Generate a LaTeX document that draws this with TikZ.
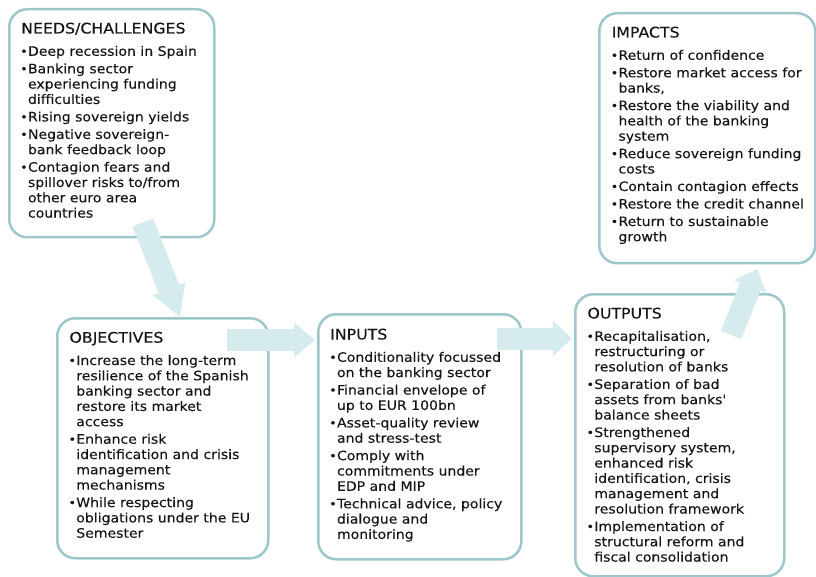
\documentclass[tikz,border=0pt]{standalone}
\usepackage{fontspec}
\setmainfont{DejaVu Sans}[FakeStretch=1.08,FakeBold=0.12]
\newfontfamily\plainapos{DejaVu Sans}[FakeStretch=1.08,FakeBold=0.12,Ligatures=TeXOff]
\usetikzlibrary{arrows.meta}
\definecolor{boxline}{HTML}{9CC7CB}
\definecolor{arrowfill}{HTML}{D5EBEE}
\definecolor{txt}{HTML}{151515}
\newlength\bulw
\setlength\bulw{6.8pt}
\newcommand\bul{\makebox[\bulw][l]{\kern-0.9pt\raisebox{0.3pt}{\fontsize{11.5}{11.5}\selectfont\textbullet}}}
\newcommand\bitem[1]{\par\vspace{2.2pt}\hangindent=\bulw\hangafter=1\noindent\bul#1}
\newcommand\panel[2]{\parbox[t]{260pt}{\raggedright\fontsize{13}{15.3}\selectfont\noindent{\fontsize{14.6}{15.3}\selectfont #1}\par\vspace{4.8pt}#2}}
\tikzset{
  panelbox/.style={draw=boxline, line width=2.5pt, rounded corners=18pt, anchor=north west, inner sep=0pt, fill=white},
  paneltext/.style={anchor=base west, inner sep=0pt, text=txt},
  bigarrow/.style={draw=arrowfill, line width=22pt, -{Triangle[width=35pt,length=#1,line width=0pt]}}
}
\begin{document}
\begin{tikzpicture}[x=1pt,y=-1pt]
\useasboundingbox (0,0) rectangle (816,577);
% boxes
\node[panelbox, minimum width=205pt, minimum height=228pt] (needs) at (8,8) {};
\node[panelbox, minimum width=216pt, minimum height=250pt] (impacts) at (598,12) {};
\node[panelbox, minimum width=211pt, minimum height=240pt] (objectives) at (56,317) {};
\node[panelbox, minimum width=203pt, minimum height=245pt] (inputs) at (317,313) {};
\node[panelbox, minimum width=209pt, minimum height=282pt] (outputs) at (574,293) {};
% texts
\node[paneltext] (needsT) at (21,33.5) {\panel{NEEDS/CHALLENGES}{%
\bitem{Deep recession in Spain}
\bitem{Banking sector\newline experiencing funding\newline difficulties}
\bitem{Rising sovereign yields}
\bitem{Negative sovereign-\newline bank feedback loop}
\bitem{Contagion fears and\newline spillover risks to/from\newline other euro area\newline countries}}};
\node[paneltext] (impactsT) at (611.5,37.5) {\panel{IMPACTS}{%
\bitem{Return of confidence}
\bitem{Restore market access for\newline banks,}
\bitem{Restore the viability and\newline health of the banking\newline system}
\bitem{Reduce sovereign funding\newline costs}
\bitem{Contain contagion effects}
\bitem{Restore the credit channel}
\bitem{Return to sustainable\newline growth}}};
\node[paneltext] (objectivesT) at (69.3,342.7) {\panel{OBJECTIVES}{%
\bitem{Increase the long-term\newline resilience of the Spanish\newline banking sector and\newline restore its market\newline access}
\bitem{Enhance risk\newline identification and crisis\newline management\newline mechanisms}
\bitem{While respecting\newline obligations under the EU\newline Semester}}};
\node[paneltext] (inputsT) at (330,339.5) {\panel{INPUTS}{%
\bitem{Conditionality focussed\newline on the banking sector}
\bitem{Financial envelope of\newline up to EUR 100bn}
\bitem{Asset-quality review\newline and stress-test}
\bitem{Comply with\newline commitments under\newline EDP and MIP}
\bitem{Technical advice, policy\newline dialogue and\newline monitoring}}};
\node[paneltext] (outputsT) at (587.3,318.5) {\panel{OUTPUTS}{%
\bitem{Recapitalisation,\newline restructuring or\newline resolution of banks}
\bitem{Separation of bad\newline assets from banks{\plainapos '}\newline balance sheets}
\bitem{Strengthened\newline supervisory system,\newline enhanced risk\newline identification, crisis\newline management and\newline resolution framework}
\bitem{Implementation of\newline structural reform and\newline fiscal consolidation}}};
% arrows
\coordinate (a1s) at (142.8,222.5);
\coordinate (a1e) at (180,316.7);
\coordinate (a2s) at (227,340);
\coordinate (a2e) at (315,340);
\coordinate (a3s) at (497,338.5);
\coordinate (a3e) at (572,338.5);
\coordinate (a4s) at (731,335);
\coordinate (a4e) at (757.3,269);
\draw[bigarrow=30pt] (a1s) -- (a1e);
\draw[bigarrow=21pt] (a2s) -- (a2e);
\draw[bigarrow=19pt] (a3s) -- (a3e);
\draw[bigarrow=19pt] (a4s) -- (a4e);
\end{tikzpicture}
\end{document}
